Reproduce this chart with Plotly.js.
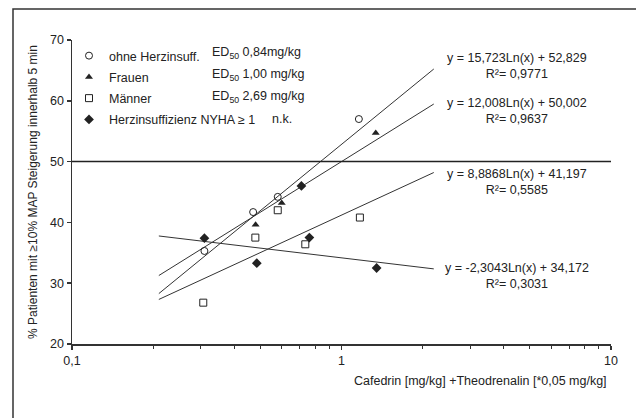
<!DOCTYPE html>
<html>
<head>
<meta charset="utf-8">
<script src="https://cdn.plot.ly/plotly-3.0.1.min.js"></script>
<style>html,body{margin:0;padding:0;background:#fff;}#chart{width:636px;height:418px;}</style>
</head>
<body>
<div id="chart"></div>
<script>
// ---- data ----
const seriesNames = ["ohne Herzinsuff.", "Frauen", "Männer", "Herzinsuffizienz NYHA ≥ 1"];
const edLabels = ["ED<sub>50</sub> 0,84mg/kg", "ED<sub>50</sub> 1,00 mg/kg", "ED<sub>50</sub> 2,69 mg/kg", "n.k."];

const dosesOhne = [0.31, 0.47, 0.58, 1.16];
const valsOhne = [35.3, 41.7, 44.2, 57.0];
const dosesFrauen = [0.48, 0.60, 1.34];
const valsFrauen = [39.6, 43.2, 54.7];
const dosesMaenner = [0.307, 0.479, 0.58, 0.734, 1.17];
const valsMaenner = [26.8, 37.5, 42.0, 36.4, 40.8];
const dosesHerz = [0.31, 0.485, 0.71, 0.76, 1.35];
const valsHerz = [37.4, 33.3, 46.0, 37.5, 32.5];

// logarithmic trend lines y = a*ln(x) + b as printed on the chart
const trendSlopes = [15.723, 12.008, 8.8868, -2.3043];
const trendIntercepts = [52.829, 50.002, 41.197, 34.172];
const trendLabels = [
  "y = 15,723Ln(x) + 52,829<br>R²= 0,9771",
  "y = 12,008Ln(x) + 50,002<br>R²= 0,9637",
  "y = 8,8868Ln(x) + 41,197<br>R²= 0,5585",
  "y = -2,3043Ln(x) + 34,172<br>R²= 0,3031"
];
const trendRange = [0.21, 2.2];

const thresholdX = [0.1, 10];
const thresholdY = [50, 50];

const xTickVals = [0.1, 1, 10];
const xTickText = ["0,1", "1", "10"];
const xMinorVals = [0.2,0.3,0.4,0.5,0.6,0.7,0.8,0.9,2,3,4,5,6,7,8,9];
const yTickVals = [20, 30, 40, 50, 60, 70];

// ---- styling ----
const ink = "#222";
const FONT = "Liberation Sans, Arial, sans-serif";
const FS = 12.5;

const markerStyles = [
  {symbol: "circle-open", size: 7, color: ink, line: {width: 1, color: ink}},
  {symbol: "triangle-up", size: 7, color: ink, line: {width: 0}},
  {symbol: "square-open", size: 7, color: ink, line: {width: 1, color: ink}},
  {symbol: "diamond", size: 7.5, color: ink, line: {width: 0}}
];
const xs = [dosesOhne, dosesFrauen, dosesMaenner, dosesHerz];
const ys = [valsOhne, valsFrauen, valsMaenner, valsHerz];

const traces = [];
for (let i = 0; i < 4; i++) {
  traces.push({
    x: trendRange,
    y: trendRange.map(v => trendSlopes[i] * Math.log(v) + trendIntercepts[i]),
    mode: "lines", line: {color: "#333", width: 1},
    showlegend: false, hoverinfo: "skip"
  });
}
traces.push({x: thresholdX, y: thresholdY, mode: "lines", line: {color: "#222", width: 1.5}, showlegend: false, hoverinfo: "skip"});
for (let i = 0; i < 4; i++) {
  traces.push({
    x: xs[i], y: ys[i], mode: "markers", name: seriesNames[i],
    legendgroup: "g" + i, marker: markerStyles[i]
  });
}

const L = 72, R = 25, T = 40, B = 74;
const W = 636, H = 418;
const pw = W - L - R, ph = H - T - B;
const px2x = p => (p - L) / pw;
const py2y = p => (H - B - p) / ph;

const annotations = [];
const legendRowsY = [53, 75, 97, 119];
const edX = [210, 210, 210, 270];
for (let i = 0; i < 4; i++) {
  annotations.push({xref: "paper", yref: "paper", x: px2x(edX[i]), y: py2y(legendRowsY[i]),
    xanchor: "left", yanchor: "middle", showarrow: false, text: edLabels[i],
    font: {family: FONT, size: FS, color: ink}});
}
const eqY = [65.5, 110.5, 181.5, 276];
for (let i = 0; i < 4; i++) {
  annotations.push({xref: "paper", yref: "paper", x: px2x(517), y: py2y(eqY[i]),
    xanchor: "center", yanchor: "middle", showarrow: false, text: trendLabels[i], align: "center",
    font: {family: FONT, size: FS, color: ink}});
}
annotations.push({xref: "paper", yref: "paper", x: px2x(609), y: py2y(381),
  xanchor: "right", yanchor: "middle", showarrow: false,
  text: "Cafedrin [mg/kg] +Theodrenalin [*0,05 mg/kg]",
  font: {family: FONT, size: FS, color: ink}});

const layout = {
  width: W, height: H,
  margin: {l: L, r: R, t: T, b: B, pad: 0},
  paper_bgcolor: "#fff", plot_bgcolor: "#fff",
  font: {family: FONT, size: FS, color: ink},
  showlegend: true,
  legend: {x: px2x(69), y: py2y(41), xanchor: "left", yanchor: "top",
    bgcolor: "rgba(0,0,0,0)", borderwidth: 0, tracegroupgap: 2,
    font: {family: FONT, size: FS, color: ink}},
  xaxis: {
    type: "log", range: [-1, 1], showgrid: false, zeroline: false,
    showline: true, linecolor: "#333", linewidth: 1.5,
    tickmode: "array", tickvals: xTickVals, ticktext: xTickText,
    ticks: "outside", ticklen: 4, tickcolor: "#333", tickwidth: 1.5,
    tickfont: {family: FONT, size: FS, color: ink},
    minor: {tickvals: xMinorVals, ticks: "outside", ticklen: 3, tickcolor: "#333", tickwidth: 1},
    title: {text: ""}
  },
  yaxis: {
    range: [20, 70], showgrid: false, zeroline: false,
    showline: true, linecolor: "#333", linewidth: 1.5,
    tickmode: "array", tickvals: yTickVals,
    ticks: "outside", ticklen: 4, tickcolor: "#333", tickwidth: 1.5,
    tickfont: {family: FONT, size: FS, color: ink},
    title: {text: "% Patienten mit ≥10% MAP Steigerung innerhalb 5 min", standoff: 10,
      font: {family: FONT, size: 12, color: ink}}
  },
  shapes: [{type: "rect", xref: "paper", yref: "paper",
    x0: px2x(13), x1: px2x(645), y0: py2y(9), y1: py2y(430),
    line: {color: "#333", width: 1.5}, fillcolor: "rgba(0,0,0,0)", layer: "below"}],
  annotations: annotations
};

Plotly.newPlot("chart", traces, layout, {displayModeBar: false, staticPlot: true});
</script>
</body>
</html>
